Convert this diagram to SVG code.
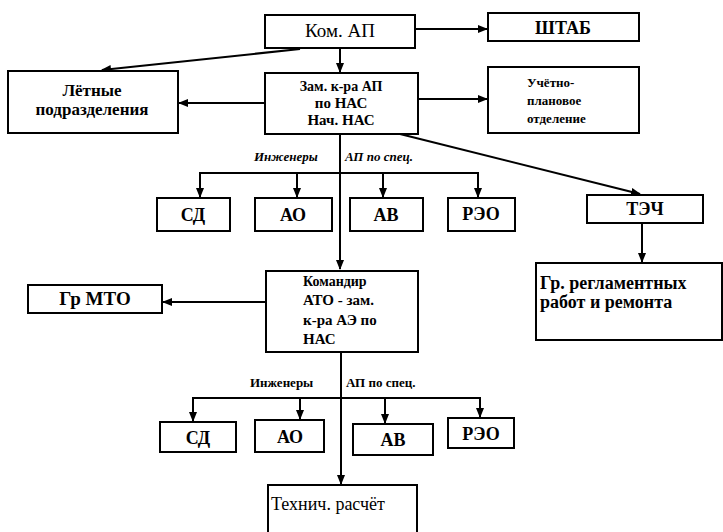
<svg xmlns="http://www.w3.org/2000/svg" width="723" height="532" viewBox="0 0 723 532">
<defs>
<style>
.box{fill:#fff;stroke:#000;stroke-width:2}
.ln{fill:none;stroke:#000;stroke-width:2}
text{fill:#000;font-family:Liberation Serif,serif}
.b{font-weight:bold}
.c{text-anchor:middle}
.it{font-style:italic;font-weight:bold;font-size:13px}
</style>
<marker id="ah" markerWidth="10" markerHeight="8" refX="9" refY="4" orient="auto" markerUnits="userSpaceOnUse">
<path d="M0,0 L10,4 L0,8 Z" fill="#000"/>
</marker>
</defs>
<rect width="723" height="532" fill="#fff"/>
<g font-family="Liberation Serif">
<g id="connectors">
<line class="ln" x1="415" y1="29" x2="487" y2="29" marker-end="url(#ah)"/>
<line class="ln" x1="340" y1="48" x2="340" y2="72" marker-end="url(#ah)"/>
<line class="ln" x1="300" y1="49" x2="102" y2="70" marker-end="url(#ah)"/>
<line class="ln" x1="265" y1="103" x2="179" y2="103" marker-end="url(#ah)"/>
<line class="ln" x1="418" y1="99" x2="487" y2="99" marker-end="url(#ah)"/>
<line class="ln" x1="400" y1="134" x2="640" y2="194" marker-end="url(#ah)"/>
<line class="ln" x1="642" y1="223" x2="642" y2="262" marker-end="url(#ah)"/>
<line class="ln" x1="340" y1="134" x2="340" y2="269" marker-end="url(#ah)"/>
<polyline class="ln" points="200,197 200,173 478,173 478,197"/>
<line class="ln" x1="200" y1="190" x2="200" y2="197" marker-end="url(#ah)"/>
<line class="ln" x1="478" y1="190" x2="478" y2="197" marker-end="url(#ah)"/>
<line class="ln" x1="297" y1="173" x2="297" y2="197" marker-end="url(#ah)"/>
<line class="ln" x1="383" y1="173" x2="383" y2="197" marker-end="url(#ah)"/>
<line class="ln" x1="265" y1="302" x2="163" y2="302" marker-end="url(#ah)"/>
<line class="ln" x1="341" y1="352" x2="341" y2="484" marker-end="url(#ah)"/>
<polyline class="ln" points="193,420 193,398 480,398 480,417"/>
<line class="ln" x1="193" y1="412" x2="193" y2="421" marker-end="url(#ah)"/>
<line class="ln" x1="480" y1="410" x2="480" y2="417" marker-end="url(#ah)"/>
<line class="ln" x1="300" y1="398" x2="300" y2="419" marker-end="url(#ah)"/>
<line class="ln" x1="385" y1="398" x2="385" y2="423" marker-end="url(#ah)"/>
<text class="it" x="254" y="161">Инженеры</text>
<text class="it" x="345" y="161">АП по спец.</text>
<text class="b" x="250" y="387" font-size="13">Инженеры</text>
<text class="b" x="346" y="387" font-size="13">АП по спец.</text>
</g>
<g id="kom">
<rect class="box" x="265" y="15" width="150" height="33"/>
<text class="c" x="340" y="37" font-size="19">Ком. АП</text>
</g>
<g id="shtab">
<rect class="box" x="488" y="13" width="151" height="28"/>
<text class="c b" x="563" y="34" font-size="18">ШТАБ</text>
</g>
<g id="letnye">
<rect class="box" x="8" y="71" width="170" height="62"/>
<text class="c b" x="92" y="96" font-size="17">Лётные</text>
<text class="c b" x="92" y="115" font-size="17">подразделения</text>
</g>
<g id="zam">
<rect class="box" x="265" y="73" width="153" height="61"/>
<text class="c b" x="341" y="91" font-size="14">Зам. к-ра АП</text>
<text class="c b" x="341" y="108" font-size="15">по НАС</text>
<text class="c b" x="341" y="125" font-size="15">Нач. НАС</text>
</g>
<g id="uchet">
<rect class="box" x="488" y="67" width="151" height="66"/>
<text class="b" x="527" y="87" font-size="13">Учётно-</text>
<text class="b" x="527" y="105" font-size="13">плановое</text>
<text class="b" x="527" y="123" font-size="13">отделение</text>
</g>
<g id="sd1">
<rect class="box" x="157" y="198" width="73" height="33"/>
<text class="c b" x="193" y="221" font-size="18">СД</text>
</g>
<g id="ao1">
<rect class="box" x="255" y="198" width="77" height="33"/>
<text class="c b" x="293" y="221" font-size="18">АО</text>
</g>
<g id="av1">
<rect class="box" x="350" y="198" width="73" height="33"/>
<text class="c b" x="386" y="221" font-size="18">АВ</text>
</g>
<g id="reo1">
<rect class="box" x="448" y="198" width="67" height="33"/>
<text class="c b" x="481" y="220" font-size="18">РЭО</text>
</g>
<g id="tech">
<rect class="box" x="587" y="195" width="116" height="28"/>
<text class="c b" x="645" y="215" font-size="18">ТЭЧ</text>
</g>
<g id="reglament">
<rect class="box" x="536" y="263" width="186" height="77"/>
<text class="b" x="540" y="289" font-size="18">Гр.  регламентных</text>
<text class="b" x="540" y="308" font-size="18">работ и ремонта</text>
</g>
<g id="komandir">
<rect class="box" x="266" y="271" width="152" height="81"/>
<text class="b" x="303" y="286" font-size="14">Командир</text>
<text class="b" x="303" y="305" font-size="15">АТО - зам.</text>
<text class="b" x="303" y="325" font-size="15">к-ра АЭ по</text>
<text class="b" x="303" y="344" font-size="15">НАС</text>
</g>
<g id="mto">
<rect class="box" x="28" y="285" width="134" height="28"/>
<text class="c b" x="95" y="305" font-size="19">Гр МТО</text>
</g>
<g id="sd2">
<rect class="box" x="160" y="422" width="76" height="30"/>
<text class="c b" x="198" y="444" font-size="18">СД</text>
</g>
<g id="ao2">
<rect class="box" x="255" y="420" width="69" height="32"/>
<text class="c b" x="290" y="443" font-size="18">АО</text>
</g>
<g id="av2">
<rect class="box" x="353" y="424" width="80" height="31"/>
<text class="c b" x="393" y="446" font-size="18">АВ</text>
</g>
<g id="reo2">
<rect class="box" x="448" y="418" width="66" height="30"/>
<text class="c b" x="481" y="440" font-size="18">РЭО</text>
</g>
<g id="raschet">
<rect class="box" x="268" y="485" width="149" height="50"/>
<text x="271" y="510" font-size="18">Технич. расчёт</text>
</g>
</g>
</svg>
